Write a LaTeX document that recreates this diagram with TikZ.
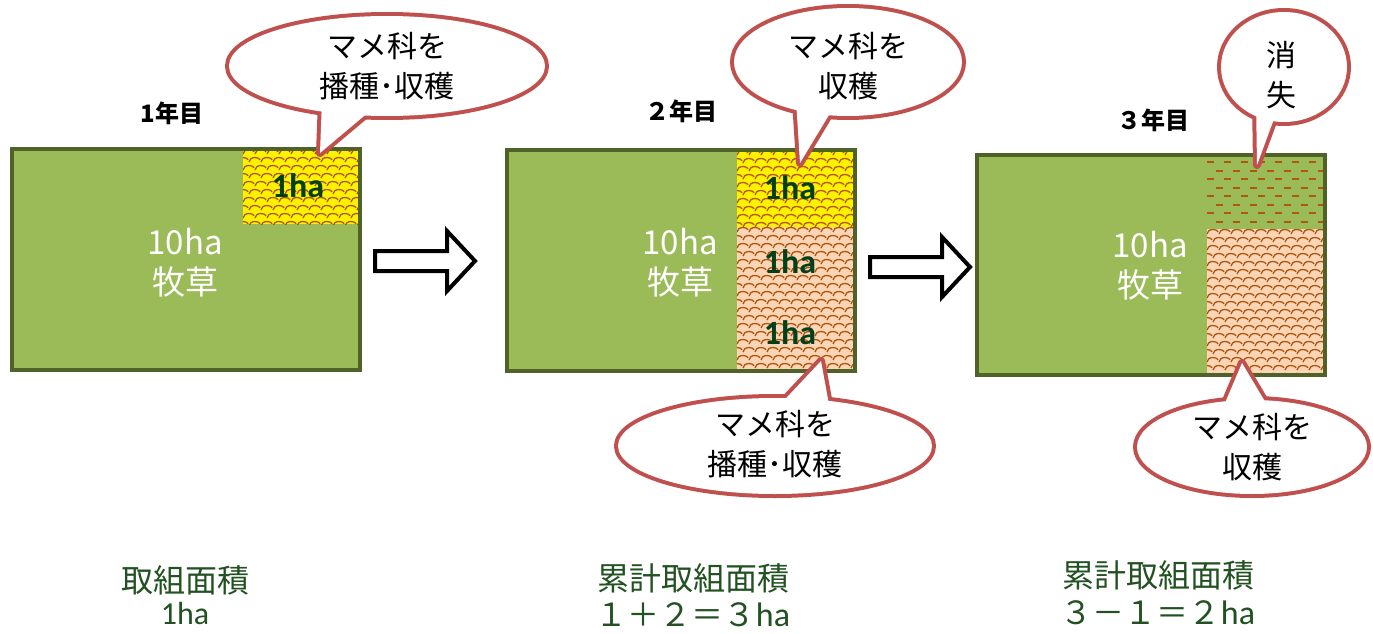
\documentclass[tikz,border=0pt]{standalone}
\usepackage{fontspec}
\setmainfont{Noto Sans CJK JP}
\newfontfamily\carl{Carlito}
\definecolor{grass}{HTML}{9BBB59}
\definecolor{edge}{HTML}{4F6228}
\definecolor{peach}{HTML}{FBD5B5}
\definecolor{brownp}{HTML}{B0560E}
\definecolor{callred}{HTML}{C0504D}
\definecolor{txtgreen}{HTML}{225222}
\definecolor{hagreen}{HTML}{00401A}
\newcommand\shingle[5]{%
  \fill[#5] (#1,#2) rectangle (#3,#4);
  \begin{scope}
  \clip (#1,#2) rectangle (#3,#4);
  \foreach \r in {0,...,18}{
    \foreach \c in {-1,...,10}{
      \pgfmathsetmacro\xx{#1+\c*12+mod(\r,2)*6}
      \pgfmathsetmacro\yy{#2+\r*8+5}
      \draw[brownp,line width=1.3] (\xx,\yy) arc[start angle=180,end angle=330,x radius=6,y radius=4.5];
    }}
  \end{scope}}
\newcommand\dashfield[4]{%
  \begin{scope}
  \clip (#1,#2) rectangle (#3,#4);
  \foreach \r in {0,...,9}{
    \pgfmathsetmacro\yy{#2+7+\r*8.5}
    \pgfmathsetmacro\off{mod(\r,2)*8.5}
    \draw[brownp,line width=2,dash pattern=on 7 off 10,dash phase=\off] (#1,\yy) -- (#3,\yy);
  }
  \end{scope}}
\newcommand\callout[6]{%
  \draw[callred,line width=8,line join=round] #1 ellipse[x radius=#2,y radius=#3];
  \draw[callred,line width=8,line join=round] #4 -- #5 -- #6 -- cycle;
  \fill[white] #1 ellipse[x radius=#2,y radius=#3];
  \fill[white] #4 -- #5 -- #6 -- cycle;}
\tikzset{
  field/.style={draw=edge,line width=4},
  blockarrow/.style={draw=black,line width=4,fill=white,line join=miter},
  calltext/.style={font=\fontsize{30}{40}\selectfont,align=center,text=black,inner sep=0},
  areatext/.style={font=\fontsize{33}{40}\selectfont,align=center,text=white,inner sep=0},
  hatext/.style={font=\carl\bfseries\fontsize{34}{36}\selectfont,text=hagreen,inner sep=0},
  yeartext/.style={font=\bfseries\fontsize{24}{26}\selectfont,text=black,inner sep=0},
  bottext/.style={font=\fontsize{32}{42}\selectfont,align=center,text=txtgreen,inner sep=0}
}
\begin{document}
\begin{tikzpicture}[x=1pt,y=-1pt]
\useasboundingbox[fill=white] (0,0) rectangle (1373,634);

% ---------- year 1 ----------
\fill[grass] (12,149) rectangle (360,370);
\shingle{243}{149}{360}{224}{yellow}
\draw[field] (12,149) rectangle (360,370);
\node[areatext] (a1) at (185,263) {10ha\\牧草};
\node[hatext] (h1) at (298,186) {1ha};
\node[yeartext] (y1) at (172,113) {1年目};

% ---------- year 2 ----------
\fill[grass] (507,150) rectangle (855,371);
\shingle{737}{150}{855}{227}{yellow}
\shingle{737}{227}{855}{371}{peach}
\draw[field] (507,150) rectangle (855,371);
\node[areatext] (a2) at (680,263) {10ha\\牧草};
\node[hatext] (h2a) at (790,188) {1ha};
\node[hatext] (h2b) at (790,262) {1ha};
\node[hatext] (h2c) at (790,333) {1ha};
\node[yeartext] (y2) at (681,111) {２年目};

% ---------- year 3 ----------
\fill[grass] (977,155) rectangle (1325,375);
\dashfield{1207}{155}{1325}{229}
\shingle{1207}{229}{1325}{375}{peach}
\draw[field] (977,155) rectangle (1325,375);
\node[areatext] (a3) at (1150,266) {10ha\\牧草};
\node[yeartext] (y3) at (1153,120) {３年目};

% ---------- block arrows ----------
\draw[blockarrow] (375,251) -- (447,251) -- (447,231) -- (475,261) -- (447,291) -- (447,271) -- (375,271) -- cycle;
\draw[blockarrow] (870,257) -- (942,257) -- (942,237) -- (970,267) -- (942,297) -- (942,277) -- (870,277) -- cycle;

% ---------- callouts ----------
\callout{(387,66)}{158}{50}{(322,100)}{(320,153)}{(383,100)}
\node[calltext] (c1) at (387,66) {マメ科を\\播種･収穫};

\callout{(848,62)}{114}{54}{(796,100)}{(800,163)}{(838,100)}
\node[calltext] (c2) at (848,66) {マメ科を\\収穫};

\callout{(775,446)}{157}{48}{(775,410)}{(821,361)}{(830,410)}
\node[calltext] (c3) at (775,444) {マメ科を\\播種･収穫};

\callout{(1284,67)}{63}{55}{(1256,100)}{(1257,165)}{(1281,100)}
\node[calltext] (c4) at (1281,75) {消\\失};

\callout{(1252,447)}{115}{47}{(1222,410)}{(1242,363)}{(1270,410)}
\node[calltext] (c5) at (1252,447) {マメ科を\\収穫};

% ---------- bottom texts ----------
\node[bottext] (b1) at (185,580) {取組面積};
\node[font=\carl\fontsize{32}{34}\selectfont,text=txtgreen,inner sep=0] (b1n) at (185,614) {1ha};
\node[bottext] (b2) at (693,578) {累計取組面積};
\node[bottext] (b2n) at (693,615) {１＋２＝３{\carl\fontsize{34}{36}\selectfont ha}};
\node[bottext] (b3) at (1158,575) {累計取組面積};
\node[bottext] (b3n) at (1158,613) {３－１＝２{\carl\fontsize{34}{36}\selectfont ha}};
\end{tikzpicture}
\end{document}
